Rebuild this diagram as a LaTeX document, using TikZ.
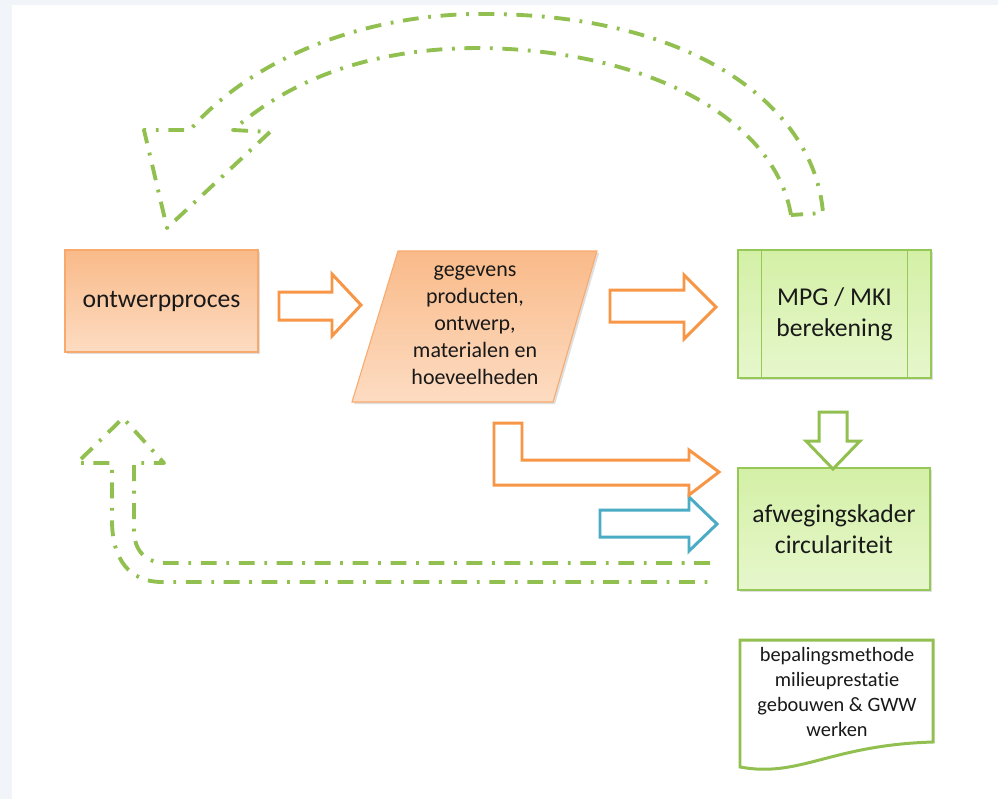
\documentclass[tikz,border=0pt]{standalone}
\usepackage{fontspec}
\setmainfont{Carlito}[RawFeature=-liga]
\usetikzlibrary{shadows}

\definecolor{ontorange}{RGB}{247,150,70}
\definecolor{randoranje}{RGB}{248,170,110}
\definecolor{oranjeboven}{RGB}{249,186,137}
\definecolor{oranjeonder}{RGB}{253,220,194}
\definecolor{randgroen}{RGB}{150,200,88}
\definecolor{groenboven}{RGB}{212,240,166}
\definecolor{groenonder}{RGB}{230,247,204}
\definecolor{lijngroen}{RGB}{146,192,80}
\definecolor{ontblauw}{RGB}{75,172,198}
\definecolor{achtergrond}{RGB}{241,245,250}
\definecolor{tekst}{RGB}{25,25,25}

\begin{document}
\begin{tikzpicture}[x=0.02cm,y=-0.02cm,
    orangebox/.style={draw=randoranje, line width=0.6pt, top color=oranjeboven, bottom color=oranjeonder,
        drop shadow={shadow xshift=1.2pt, shadow yshift=-1.2pt, opacity=0.25}},
    greenbox/.style={draw=randgroen, line width=0.6pt, top color=groenboven, bottom color=groenonder,
        drop shadow={shadow xshift=1.2pt, shadow yshift=-1.2pt, opacity=0.25}},
    bigtext/.style={font=\fontsize{14.6}{17.6}\selectfont, text=tekst, align=center},
    midtext/.style={font=\fontsize{12.5}{15.4}\selectfont, text=tekst, align=center},
    smalltext/.style={font=\fontsize{11.6}{14.2}\selectfont, text=tekst, align=center},
    blockarrow/.style={line width=1.7pt, fill=white, line join=miter},
    feedback/.style={draw=lijngroen, line width=2.2pt, line join=round,
        dash pattern=on 9pt off 5.5pt on 1.6pt off 5.5pt}]
\useasboundingbox (0,0) rectangle (998,799);

% background
\fill[achtergrond] (0,0) rectangle (998,799);
\fill[white] (12,5) rectangle (998,799);

% boxes
\node[orangebox, bigtext, minimum width=3.86cm, minimum height=2.04cm] (ontwerp) at (161.5,301) {ontwerpproces};

\path[orangebox] (398,251) -- (597,251) -- (553,402) -- (352,402) -- cycle;
\node[midtext] (gegevens) at (475,325) {gegevens\\producten,\\ontwerp,\\materialen en\\hoeveelheden};

\node[greenbox, bigtext, minimum width=3.86cm, minimum height=2.56cm] (mpg) at (834.5,314) {MPG / MKI\\berekening};
\draw[randgroen, line width=0.6pt] ([xshift=0.48cm]mpg.north west) -- ([xshift=0.48cm]mpg.south west);
\draw[randgroen, line width=0.6pt] ([xshift=-0.48cm]mpg.north east) -- ([xshift=-0.48cm]mpg.south east);

\node[greenbox, bigtext, minimum width=3.84cm, minimum height=2.44cm] (afweging) at (834,529) {afwegingskader\\circulariteit};

% document
\draw[lijngroen, line width=1.7pt, fill=white] (740,640) -- (933,640) -- (933,742)
    .. controls (830,745) and (800,778) .. (740,767) -- cycle;
\node[smalltext] (bepaling) at (837,692) {bepalingsmethode\\milieuprestatie\\gebouwen \& GWW\\werken};

% block arrows
\draw[blockarrow, draw=ontorange] (279,292) -- (332,292) -- (332,274) -- (361,305) -- (332,336) -- (332,320) -- (279,320) -- cycle;
\draw[blockarrow, draw=ontorange] (610,290) -- (684,290) -- (684,275) -- (716,307) -- (684,339) -- (684,322) -- (610,322) -- cycle;
\draw[blockarrow, draw=ontblauw] (600,510) -- (689,510) -- (689,497) -- (717,524) -- (689,551) -- (689,537) -- (600,537) -- cycle;
\draw[blockarrow, draw=lijngroen] (819,412) -- (847,412) -- (847,441) -- (860,441) -- (833,469) -- (806,441) -- (819,441) -- cycle;
\draw[blockarrow, draw=ontorange] (494,423) -- (522,423) -- (522,460) -- (689,460) -- (689,450)
    -- (719,472) -- (689,495) -- (689,485) -- (494,485) -- cycle;

% feedback loop top
\draw[feedback] (791,215) .. controls (775,120) and (650,50) .. (480,48)
    .. controls (370,48) and (290,80) .. (233,130) -- (270,132) -- (167,228) -- (144,130) -- (190,130)
    .. controls (260,50) and (380,12) .. (490,14)
    .. controls (700,16) and (815,110) .. (823,213) -- cycle;

% feedback loop bottom
\draw[feedback] (710,563) -- (166,563) .. controls (145,563) and (134,550) .. (134,530) -- (134,463)
    -- (164,463) -- (123,418) -- (77,463) -- (112,463) -- (112,520)
    .. controls (112,560) and (130,582) .. (162,582) -- (710,582);
\end{tikzpicture}
\end{document}
